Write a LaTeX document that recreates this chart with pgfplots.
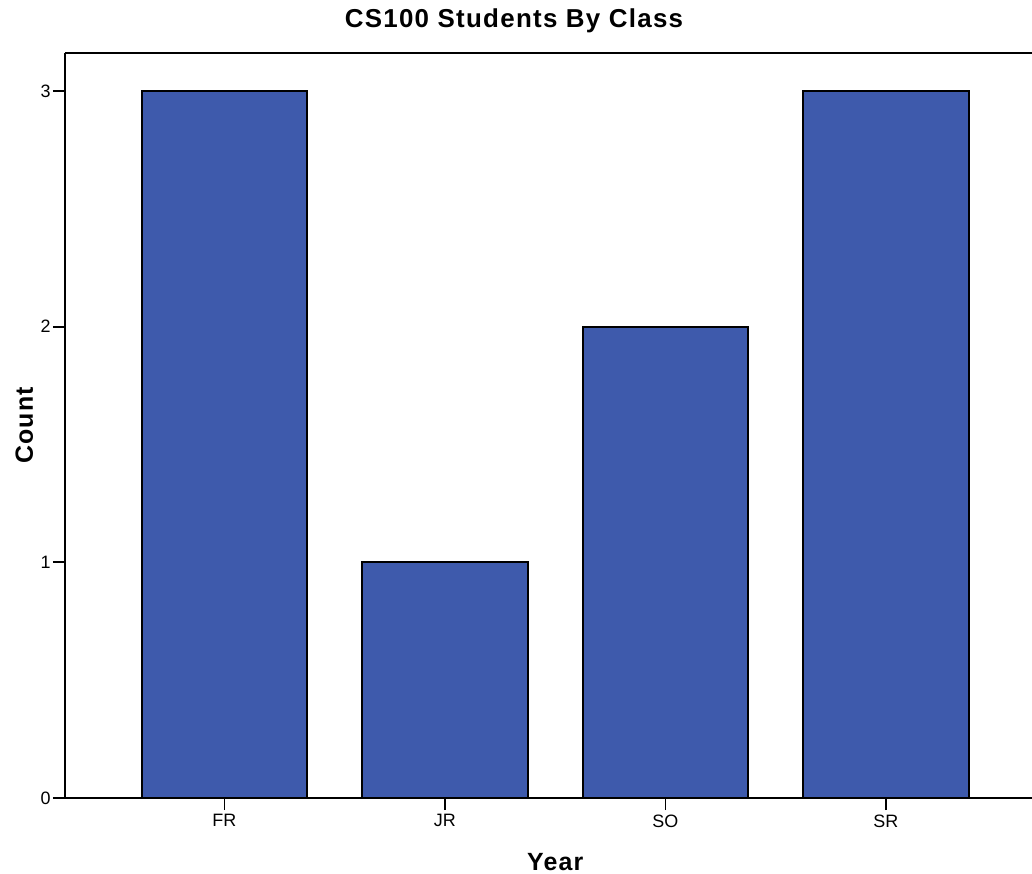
\documentclass[border=0pt]{standalone}
\usepackage{fontspec}
\setmainfont{Liberation Sans}
\newfontfamily\labelfont[LetterSpace=5]{Liberation Sans Bold}
\usepackage{pgfplots}
\pgfplotsset{compat=1.18}
\definecolor{barblue}{RGB}{62,90,172}

\begin{document}
\begin{tikzpicture}
\begin{axis}[
	scale only axis,
	width=967bp, height=745bp,
	xmin=-0.723, xmax=3.6625,
	ymin=0, ymax=3.161,
	axis x line*=box, axis y line*=left,
	axis line style={line width=1.6bp, black},
	xtick={0,1,2,3},
	xticklabels={FR,JR,SO,SR},
	ytick={0,1,2,3},
	xtick pos=bottom, ytick pos=left,
	tick align=outside,
	major tick length=12bp,
	tick style={line width=1.8bp, black},
	/pgf/number format/assume math mode=true,
	ticklabel style={font=\fontsize{18}{20}\selectfont},
	xticklabel style={yshift=-1bp},
	yticklabel style={xshift=1bp},
	xlabel={Year},
	ylabel={Count},
	xlabel style={font=\labelfont\fontsize{25}{28}\selectfont, at={(axis description cs:0.507,-0.0975)}, anchor=base, inner sep=0pt},
	ylabel style={font=\labelfont\fontsize{25}{28}\selectfont, at={(axis description cs:-0.0331,0.5)}, anchor=base, rotate=0},
	title={CS100 Students By Class},
	title style={font=\labelfont\fontsize{26}{29}\selectfont, at={(axis description cs:0.4643,1.0268)}, anchor=base},
	ybar, bar width=0.75,
	clip=false,
]
	\addplot[fill=barblue, draw=black, line width=1.8bp] coordinates {
		(0,3)
		(1,1)
		(2,2)
		(3,3)
	};
\end{axis}
\pgfresetboundingbox
\path ([shift={(-65bp,-76bp)}]current axis.south west) rectangle ([shift={(0bp,53bp)}]current axis.north east);
\end{tikzpicture}
\end{document}
